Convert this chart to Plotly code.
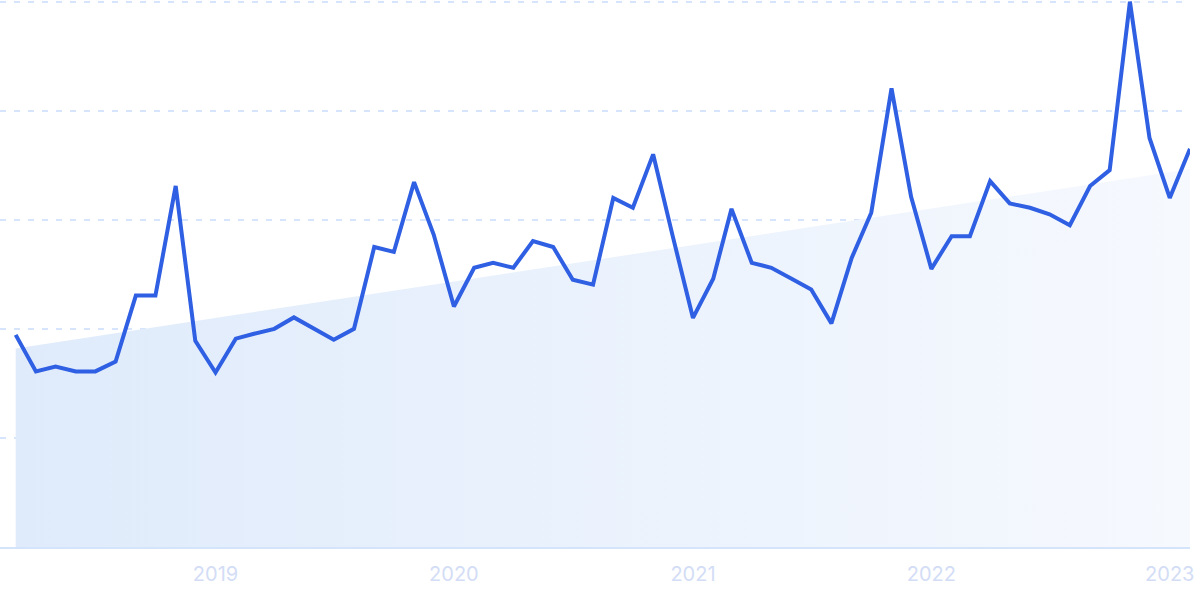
import pandas as pd
import plotly.graph_objects as go

# Monthly values, 2018-03 .. 2023-02
months = pd.date_range("2018-03-01", "2023-02-01", freq="MS")
values = [
    38.9, 32.2, 33.1, 32.2, 32.2, 34.0, 46.1, 46.1, 66.2, 37.8,
    32.0, 38.2, 39.1, 40.0, 42.1, 40.0, 38.0, 40.0, 55.0, 54.1,
    66.9, 57.3, 44.1, 51.2, 52.1, 51.2, 56.1, 55.0, 49.0, 48.1,
    64.0, 62.2, 72.0, 57.0, 42.0, 49.2, 62.0, 52.1, 51.2, 49.2,
    47.2, 41.0, 53.0, 61.3, 84.1, 64.2, 51.0, 57.0, 57.0, 67.1,
    63.0, 62.2, 61.0, 59.0, 66.2, 69.1, 100.0, 75.0, 64.0, 73.0,
]

# Trend line (area) endpoints
trend_dates = [months[0], months[-1]]
trend_values = [36.4, 69.3]

tick_dates = ["2019-01-01", "2020-01-01", "2021-01-01", "2022-01-01", "2023-01-01"]
tick_labels = ["2019", "2020", "2021", "2022", "2023"]
grid_values = [20, 40, 60, 80, 100]
x_start = "2018-02-05"

fig = go.Figure()
fig.add_trace(go.Scatter(
    x=trend_dates, y=trend_values, mode="lines",
    line=dict(width=0, color="rgba(0,0,0,0)"),
    fill="tozeroy",
    fillgradient=dict(type="horizontal",
                      colorscale=[[0, "#dfebfb"], [1, "#f6f9fe"]]),
    hoverinfo="skip", showlegend=False,
))
fig.add_trace(go.Scatter(
    x=months, y=values, mode="lines",
    line=dict(color="#2f5fe3", width=4),
    showlegend=False,
))

fig.update_layout(
    width=1200, height=599,
    margin=dict(l=0, r=10, t=0, b=52),
    paper_bgcolor="white", plot_bgcolor="white",
    font=dict(family="Inter, Roboto, sans-serif"),
)
fig.update_xaxes(
    range=[x_start, months[-1]],
    tickvals=tick_dates, ticktext=tick_labels,
    showgrid=False, zeroline=False,
    showline=True, linecolor="#d4e5fb", linewidth=2,
    ticks="", ticklabelstandoff=8,
    tickfont=dict(size=20, color="#d3ddf6"),
)
fig.update_yaxes(
    range=[0, 100.3],
    tickvals=grid_values, showticklabels=False,
    showgrid=True, gridcolor="#d6e5fb", gridwidth=1.5, griddash="6px,8px",
    zeroline=False,
)

fig.write_html("out.html", config={"displayModeBar": False},
               post_script="document.body.style.margin='0';")
